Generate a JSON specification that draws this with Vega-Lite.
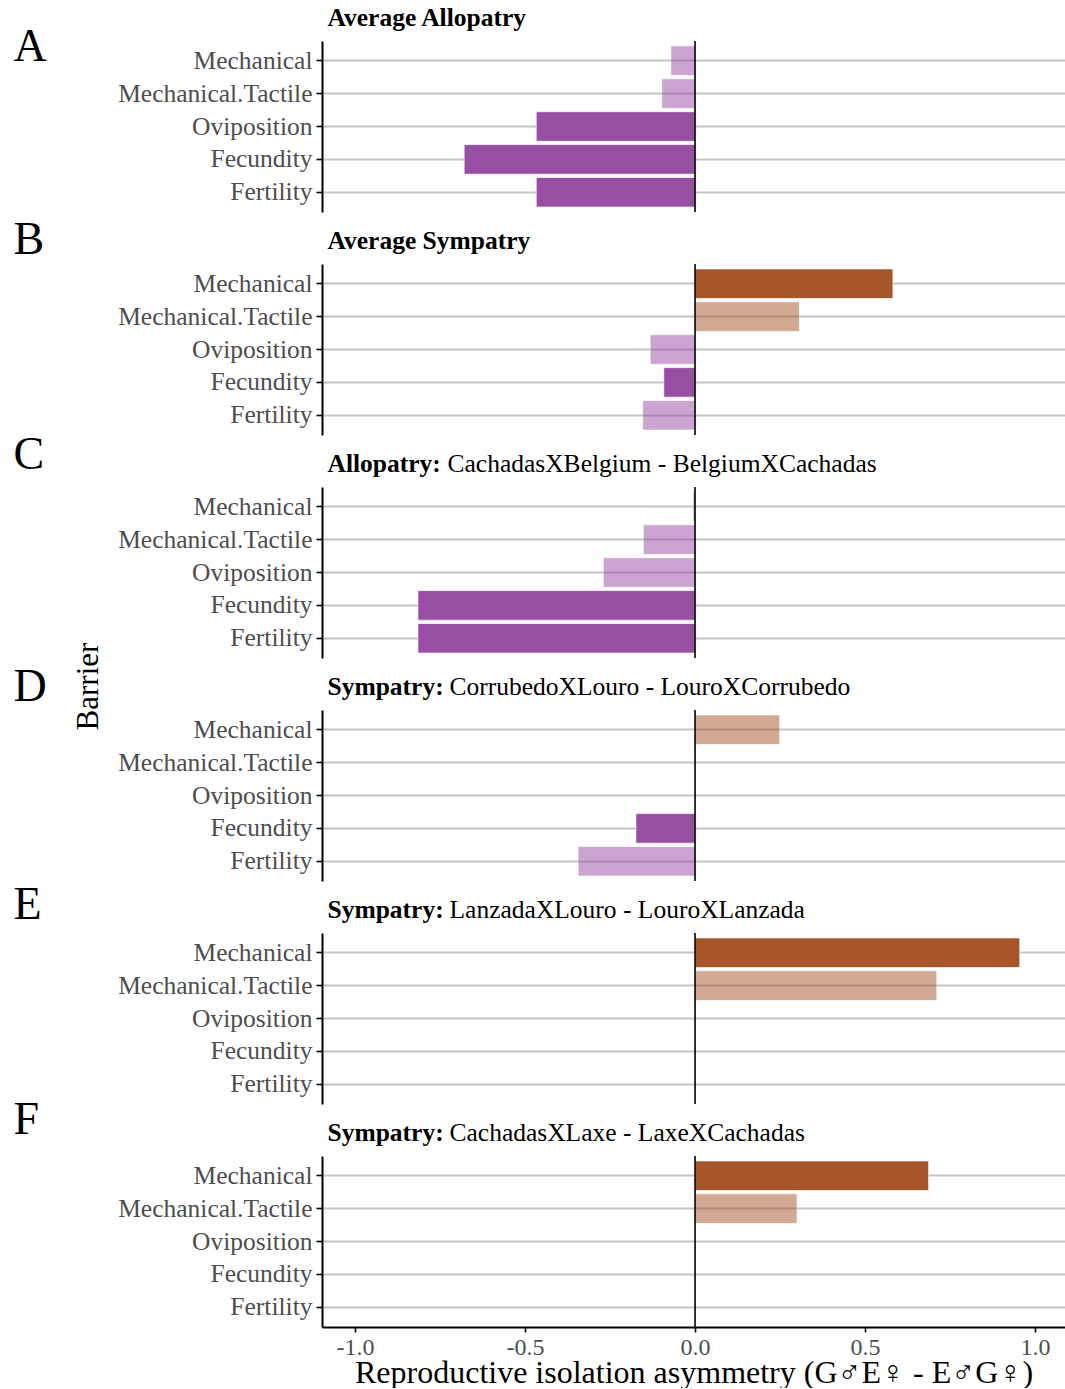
{
  "$schema": "https://vega.github.io/schema/vega-lite/v6.json",
  "padding": {"left": 13, "top": 5, "right": 0, "bottom": 0},
  "autosize": {"type": "pad"},
  "title": {"text": "Barrier", "orient": "left", "anchor": "middle", "frame": "bounds", "offset": -116, "dx": 10, "fontSize": 31, "fontWeight": "normal", "font": "Liberation Serif", "color": "black", "baseline": "alphabetic"},
  "bounds": "flush",
  "spacing": 52,
  "datasets": {
    "ri": [
      {"panel": "A", "barrier": "Mechanical", "asymmetry": -0.071, "direction": "E♂G♀", "significant": "no"},
      {"panel": "A", "barrier": "Mechanical.Tactile", "asymmetry": -0.098, "direction": "E♂G♀", "significant": "no"},
      {"panel": "A", "barrier": "Oviposition", "asymmetry": -0.467, "direction": "E♂G♀", "significant": "yes"},
      {"panel": "A", "barrier": "Fecundity", "asymmetry": -0.679, "direction": "E♂G♀", "significant": "yes"},
      {"panel": "A", "barrier": "Fertility", "asymmetry": -0.467, "direction": "E♂G♀", "significant": "yes"},
      {"panel": "B", "barrier": "Mechanical", "asymmetry": 0.582, "direction": "G♂E♀", "significant": "yes"},
      {"panel": "B", "barrier": "Mechanical.Tactile", "asymmetry": 0.307, "direction": "G♂E♀", "significant": "no"},
      {"panel": "B", "barrier": "Oviposition", "asymmetry": -0.132, "direction": "E♂G♀", "significant": "no"},
      {"panel": "B", "barrier": "Fecundity", "asymmetry": -0.092, "direction": "E♂G♀", "significant": "yes"},
      {"panel": "B", "barrier": "Fertility", "asymmetry": -0.154, "direction": "E♂G♀", "significant": "no"},
      {"panel": "C", "barrier": "Mechanical", "asymmetry": -0.006, "direction": "E♂G♀", "significant": "no"},
      {"panel": "C", "barrier": "Mechanical.Tactile", "asymmetry": -0.152, "direction": "E♂G♀", "significant": "no"},
      {"panel": "C", "barrier": "Oviposition", "asymmetry": -0.27, "direction": "E♂G♀", "significant": "no"},
      {"panel": "C", "barrier": "Fecundity", "asymmetry": -0.815, "direction": "E♂G♀", "significant": "yes"},
      {"panel": "C", "barrier": "Fertility", "asymmetry": -0.815, "direction": "E♂G♀", "significant": "yes"},
      {"panel": "D", "barrier": "Mechanical", "asymmetry": 0.249, "direction": "G♂E♀", "significant": "no"},
      {"panel": "D", "barrier": "Fecundity", "asymmetry": -0.174, "direction": "E♂G♀", "significant": "yes"},
      {"panel": "D", "barrier": "Fertility", "asymmetry": -0.344, "direction": "E♂G♀", "significant": "no"},
      {"panel": "E", "barrier": "Mechanical", "asymmetry": 0.955, "direction": "G♂E♀", "significant": "yes"},
      {"panel": "E", "barrier": "Mechanical.Tactile", "asymmetry": 0.711, "direction": "G♂E♀", "significant": "no"},
      {"panel": "F", "barrier": "Mechanical", "asymmetry": 0.687, "direction": "G♂E♀", "significant": "yes"},
      {"panel": "F", "barrier": "Mechanical.Tactile", "asymmetry": 0.3, "direction": "G♂E♀", "significant": "no"}
    ]
  },
  "vconcat": [
    {
      "width": 743, "height": 171,
      "layer": [
        {
          "data": {"name": "ri"},
          "transform": [{"filter": "datum.panel === 'A' && datum.significant === 'no'"}],
          "mark": {"type": "bar", "opacity": 0.5, "stroke": "white", "strokeWidth": 0.7},
          "encoding": {
            "y": {"field": "barrier", "type": "nominal", "scale": {"domain": ["Mechanical", "Mechanical.Tactile", "Oviposition", "Fecundity", "Fertility"], "paddingInner": 0.1, "paddingOuter": 0.15}, "axis": {"title": "A", "titleY": 19}},
            "x": {"field": "asymmetry", "type": "quantitative", "scale": {"domain": [-1.097, 1.088], "nice": false, "zero": false}, "axis": null},
            "color": {"field": "direction", "type": "nominal", "scale": {"domain": ["E♂G♀", "G♂E♀"], "range": ["#984EA3", "#A65628"]}, "legend": null}
          }
        },
        {
          "data": {"name": "ri"},
          "transform": [{"filter": "datum.panel === 'A' && datum.significant === 'yes'"}],
          "mark": {"type": "bar", "stroke": "white", "strokeWidth": 0.7},
          "encoding": {
            "y": {"field": "barrier", "type": "nominal", "scale": {"domain": ["Mechanical", "Mechanical.Tactile", "Oviposition", "Fecundity", "Fertility"], "paddingInner": 0.1, "paddingOuter": 0.15}, "axis": {"title": "A", "titleY": 19}},
            "x": {"field": "asymmetry", "type": "quantitative", "scale": {"domain": [-1.097, 1.088], "nice": false, "zero": false}, "axis": {"orient": "top", "title": "Average Allopatry", "titleX": 5, "titleFontWeight": "bold"}},
            "color": {"field": "direction", "type": "nominal", "scale": {"domain": ["E♂G♀", "G♂E♀"], "range": ["#984EA3", "#A65628"]}, "legend": null}
          }
        },
        {
          "data": {"values": [{}]},
          "mark": {"type": "rule", "color": "black", "strokeWidth": 1.6},
          "encoding": {
            "x": {"datum": 0, "type": "quantitative", "scale": {"domain": [-1.097, 1.088], "nice": false, "zero": false}, "axis": null}
          }
        }
      ],
      "resolve": {"scale": {"x": "independent"}, "axis": {"x": "independent"}}
    },
    {
      "width": 743, "height": 171,
      "layer": [
        {
          "data": {"name": "ri"},
          "transform": [{"filter": "datum.panel === 'B' && datum.significant === 'no'"}],
          "mark": {"type": "bar", "opacity": 0.5, "stroke": "white", "strokeWidth": 0.7},
          "encoding": {
            "y": {"field": "barrier", "type": "nominal", "scale": {"domain": ["Mechanical", "Mechanical.Tactile", "Oviposition", "Fecundity", "Fertility"], "paddingInner": 0.1, "paddingOuter": 0.15}, "axis": {"title": "B", "titleY": -10.5}},
            "x": {"field": "asymmetry", "type": "quantitative", "scale": {"domain": [-1.097, 1.088], "nice": false, "zero": false}, "axis": null},
            "color": {"field": "direction", "type": "nominal", "scale": {"domain": ["E♂G♀", "G♂E♀"], "range": ["#984EA3", "#A65628"]}, "legend": null}
          }
        },
        {
          "data": {"name": "ri"},
          "transform": [{"filter": "datum.panel === 'B' && datum.significant === 'yes'"}],
          "mark": {"type": "bar", "stroke": "white", "strokeWidth": 0.7},
          "encoding": {
            "y": {"field": "barrier", "type": "nominal", "scale": {"domain": ["Mechanical", "Mechanical.Tactile", "Oviposition", "Fecundity", "Fertility"], "paddingInner": 0.1, "paddingOuter": 0.15}, "axis": {"title": "B", "titleY": -10.5}},
            "x": {"field": "asymmetry", "type": "quantitative", "scale": {"domain": [-1.097, 1.088], "nice": false, "zero": false}, "axis": {"orient": "top", "title": "Average Sympatry", "titleX": 5, "titleFontWeight": "bold"}},
            "color": {"field": "direction", "type": "nominal", "scale": {"domain": ["E♂G♀", "G♂E♀"], "range": ["#984EA3", "#A65628"]}, "legend": null}
          }
        },
        {
          "data": {"values": [{}]},
          "mark": {"type": "rule", "color": "black", "strokeWidth": 1.6},
          "encoding": {
            "x": {"datum": 0, "type": "quantitative", "scale": {"domain": [-1.097, 1.088], "nice": false, "zero": false}, "axis": null}
          }
        }
      ],
      "resolve": {"scale": {"x": "independent"}, "axis": {"x": "independent"}}
    },
    {
      "width": 743, "height": 171,
      "layer": [
        {
          "data": {"name": "ri"},
          "transform": [{"filter": "datum.panel === 'C' && datum.significant === 'no'"}],
          "mark": {"type": "bar", "opacity": 0.5, "stroke": "white", "strokeWidth": 0.7},
          "encoding": {
            "y": {"field": "barrier", "type": "nominal", "scale": {"domain": ["Mechanical", "Mechanical.Tactile", "Oviposition", "Fecundity", "Fertility"], "paddingInner": 0.1, "paddingOuter": 0.15}, "axis": {"title": "C", "titleY": -19}},
            "x": {"field": "asymmetry", "type": "quantitative", "scale": {"domain": [-1.097, 1.088], "nice": false, "zero": false}, "axis": {"orient": "top", "title": "CachadasXBelgium - BelgiumXCachadas", "titleX": 125, "titleFontWeight": "normal"}},
            "color": {"field": "direction", "type": "nominal", "scale": {"domain": ["E♂G♀", "G♂E♀"], "range": ["#984EA3", "#A65628"]}, "legend": null}
          }
        },
        {
          "data": {"name": "ri"},
          "transform": [{"filter": "datum.panel === 'C' && datum.significant === 'yes'"}],
          "mark": {"type": "bar", "stroke": "white", "strokeWidth": 0.7},
          "encoding": {
            "y": {"field": "barrier", "type": "nominal", "scale": {"domain": ["Mechanical", "Mechanical.Tactile", "Oviposition", "Fecundity", "Fertility"], "paddingInner": 0.1, "paddingOuter": 0.15}, "axis": {"title": "C", "titleY": -19}},
            "x": {"field": "asymmetry", "type": "quantitative", "scale": {"domain": [-1.097, 1.088], "nice": false, "zero": false}, "axis": {"orient": "top", "title": "Allopatry:", "titleX": 5, "titleFontWeight": "bold"}},
            "color": {"field": "direction", "type": "nominal", "scale": {"domain": ["E♂G♀", "G♂E♀"], "range": ["#984EA3", "#A65628"]}, "legend": null}
          }
        },
        {
          "data": {"values": [{}]},
          "mark": {"type": "rule", "color": "black", "strokeWidth": 1.6},
          "encoding": {
            "x": {"datum": 0, "type": "quantitative", "scale": {"domain": [-1.097, 1.088], "nice": false, "zero": false}, "axis": null}
          }
        }
      ],
      "resolve": {"scale": {"x": "independent"}, "axis": {"x": "independent"}}
    },
    {
      "width": 743, "height": 171,
      "layer": [
        {
          "data": {"name": "ri"},
          "transform": [{"filter": "datum.panel === 'D' && datum.significant === 'no'"}],
          "mark": {"type": "bar", "opacity": 0.5, "stroke": "white", "strokeWidth": 0.7},
          "encoding": {
            "y": {"field": "barrier", "type": "nominal", "scale": {"domain": ["Mechanical", "Mechanical.Tactile", "Oviposition", "Fecundity", "Fertility"], "paddingInner": 0.1, "paddingOuter": 0.15}, "axis": {"title": "D", "titleY": -10}},
            "x": {"field": "asymmetry", "type": "quantitative", "scale": {"domain": [-1.097, 1.088], "nice": false, "zero": false}, "axis": {"orient": "top", "title": "CorrubedoXLouro - LouroXCorrubedo", "titleX": 127, "titleFontWeight": "normal"}},
            "color": {"field": "direction", "type": "nominal", "scale": {"domain": ["E♂G♀", "G♂E♀"], "range": ["#984EA3", "#A65628"]}, "legend": null}
          }
        },
        {
          "data": {"name": "ri"},
          "transform": [{"filter": "datum.panel === 'D' && datum.significant === 'yes'"}],
          "mark": {"type": "bar", "stroke": "white", "strokeWidth": 0.7},
          "encoding": {
            "y": {"field": "barrier", "type": "nominal", "scale": {"domain": ["Mechanical", "Mechanical.Tactile", "Oviposition", "Fecundity", "Fertility"], "paddingInner": 0.1, "paddingOuter": 0.15}, "axis": {"title": "D", "titleY": -10}},
            "x": {"field": "asymmetry", "type": "quantitative", "scale": {"domain": [-1.097, 1.088], "nice": false, "zero": false}, "axis": {"orient": "top", "title": "Sympatry:", "titleX": 5, "titleFontWeight": "bold"}},
            "color": {"field": "direction", "type": "nominal", "scale": {"domain": ["E♂G♀", "G♂E♀"], "range": ["#984EA3", "#A65628"]}, "legend": null}
          }
        },
        {
          "data": {"values": [{}]},
          "mark": {"type": "rule", "color": "black", "strokeWidth": 1.6},
          "encoding": {
            "x": {"datum": 0, "type": "quantitative", "scale": {"domain": [-1.097, 1.088], "nice": false, "zero": false}, "axis": null}
          }
        }
      ],
      "resolve": {"scale": {"x": "independent"}, "axis": {"x": "independent"}}
    },
    {
      "width": 743, "height": 171,
      "layer": [
        {
          "data": {"name": "ri"},
          "transform": [{"filter": "datum.panel === 'E' && datum.significant === 'no'"}],
          "mark": {"type": "bar", "opacity": 0.5, "stroke": "white", "strokeWidth": 0.7},
          "encoding": {
            "y": {"field": "barrier", "type": "nominal", "scale": {"domain": ["Mechanical", "Mechanical.Tactile", "Oviposition", "Fecundity", "Fertility"], "paddingInner": 0.1, "paddingOuter": 0.15}, "axis": {"title": "E", "titleY": -15}},
            "x": {"field": "asymmetry", "type": "quantitative", "scale": {"domain": [-1.097, 1.088], "nice": false, "zero": false}, "axis": {"orient": "top", "title": "LanzadaXLouro - LouroXLanzada", "titleX": 127, "titleFontWeight": "normal"}},
            "color": {"field": "direction", "type": "nominal", "scale": {"domain": ["E♂G♀", "G♂E♀"], "range": ["#984EA3", "#A65628"]}, "legend": null}
          }
        },
        {
          "data": {"name": "ri"},
          "transform": [{"filter": "datum.panel === 'E' && datum.significant === 'yes'"}],
          "mark": {"type": "bar", "stroke": "white", "strokeWidth": 0.7},
          "encoding": {
            "y": {"field": "barrier", "type": "nominal", "scale": {"domain": ["Mechanical", "Mechanical.Tactile", "Oviposition", "Fecundity", "Fertility"], "paddingInner": 0.1, "paddingOuter": 0.15}, "axis": {"title": "E", "titleY": -15}},
            "x": {"field": "asymmetry", "type": "quantitative", "scale": {"domain": [-1.097, 1.088], "nice": false, "zero": false}, "axis": {"orient": "top", "title": "Sympatry:", "titleX": 5, "titleFontWeight": "bold"}},
            "color": {"field": "direction", "type": "nominal", "scale": {"domain": ["E♂G♀", "G♂E♀"], "range": ["#984EA3", "#A65628"]}, "legend": null}
          }
        },
        {
          "data": {"values": [{}]},
          "mark": {"type": "rule", "color": "black", "strokeWidth": 1.6},
          "encoding": {
            "x": {"datum": 0, "type": "quantitative", "scale": {"domain": [-1.097, 1.088], "nice": false, "zero": false}, "axis": null}
          }
        }
      ],
      "resolve": {"scale": {"x": "independent"}, "axis": {"x": "independent"}}
    },
    {
      "width": 743, "height": 171,
      "layer": [
        {
          "data": {"name": "ri"},
          "transform": [{"filter": "datum.panel === 'F' && datum.significant === 'no'"}],
          "mark": {"type": "bar", "opacity": 0.5, "stroke": "white", "strokeWidth": 0.7},
          "encoding": {
            "y": {"field": "barrier", "type": "nominal", "scale": {"domain": ["Mechanical", "Mechanical.Tactile", "Oviposition", "Fecundity", "Fertility"], "paddingInner": 0.1, "paddingOuter": 0.15}, "axis": {"title": "F", "titleY": -22.5}},
            "x": {"field": "asymmetry", "type": "quantitative", "scale": {"domain": [-1.097, 1.088], "nice": false, "zero": false}, "axis": {"orient": "top", "title": "CachadasXLaxe - LaxeXCachadas", "titleX": 127, "titleFontWeight": "normal"}},
            "color": {"field": "direction", "type": "nominal", "scale": {"domain": ["E♂G♀", "G♂E♀"], "range": ["#984EA3", "#A65628"]}, "legend": null}
          }
        },
        {
          "data": {"name": "ri"},
          "transform": [{"filter": "datum.panel === 'F' && datum.significant === 'yes'"}],
          "mark": {"type": "bar", "stroke": "white", "strokeWidth": 0.7},
          "encoding": {
            "y": {"field": "barrier", "type": "nominal", "scale": {"domain": ["Mechanical", "Mechanical.Tactile", "Oviposition", "Fecundity", "Fertility"], "paddingInner": 0.1, "paddingOuter": 0.15}, "axis": {"title": "F", "titleY": -22.5}},
            "x": {"field": "asymmetry", "type": "quantitative", "scale": {"domain": [-1.097, 1.088], "nice": false, "zero": false}, "axis": {"orient": "top", "title": "Sympatry:", "titleX": 5, "titleFontWeight": "bold"}},
            "color": {"field": "direction", "type": "nominal", "scale": {"domain": ["E♂G♀", "G♂E♀"], "range": ["#984EA3", "#A65628"]}, "legend": null}
          }
        },
        {
          "data": {"values": [{}]},
          "mark": {"type": "rule", "color": "black", "strokeWidth": 1.6},
          "encoding": {
            "x": {
              "datum": 0, "type": "quantitative",
              "scale": {"domain": [-1.097, 1.088], "nice": false, "zero": false},
              "axis": {
                "orient": "bottom",
                "title": "Reproductive isolation asymmetry (G♂E♀ - E♂G♀)",
                "values": [-1, -0.5, 0, 0.5, 1],
                "labelExpr": "replace(format(datum.value, '.1f'), '\u2212', '-')",
                "grid": false,
                "domain": true, "domainColor": "black", "domainWidth": 2,
                "ticks": true, "tickColor": "black", "tickWidth": 1.6, "tickSize": 5,
                "labels": true, "labelFont": "Liberation Serif", "labelFontSize": 24, "labelColor": "#4d4d4d", "labelPadding": 3,
                "titleFont": "Liberation Serif", "titleFontSize": 32, "titleFontWeight": "normal", "titleColor": "black",
                "titleAnchor": "middle", "titleAlign": "center", "titleX": 371.5,
                "titleBaseline": "alphabetic", "titleY": 55
              }
            }
          }
        }
      ],
      "resolve": {"scale": {"x": "independent"}, "axis": {"x": "independent"}}
    }
  ],
  "config": {
    "font": "Liberation Serif",
    "view": {"stroke": null},
    "axisY": {
      "domainColor": "black", "domainWidth": 2,
      "tickColor": "black", "tickWidth": 1.6, "tickSize": 6,
      "labelFont": "Liberation Serif", "labelFontSize": 25.5, "labelColor": "#4d4d4d", "labelPadding": 4, "labelLimit": 0,
      "grid": true, "gridColor": "#c4c4c4", "gridWidth": 1.8,
      "titleAngle": 0, "titleX": -309, "titleAlign": "left", "titleBaseline": "alphabetic",
      "titleFont": "Liberation Serif", "titleFontSize": 46, "titleFontWeight": "normal", "titleColor": "black"
    },
    "axisTop": {
      "domain": false, "ticks": false, "labels": false, "grid": false,
      "titleY": -16, "titleAlign": "left", "titleAnchor": "start", "titleBaseline": "alphabetic",
      "titleFont": "Liberation Serif", "titleFontSize": 25.5, "titleColor": "black"
    }
  }
}
